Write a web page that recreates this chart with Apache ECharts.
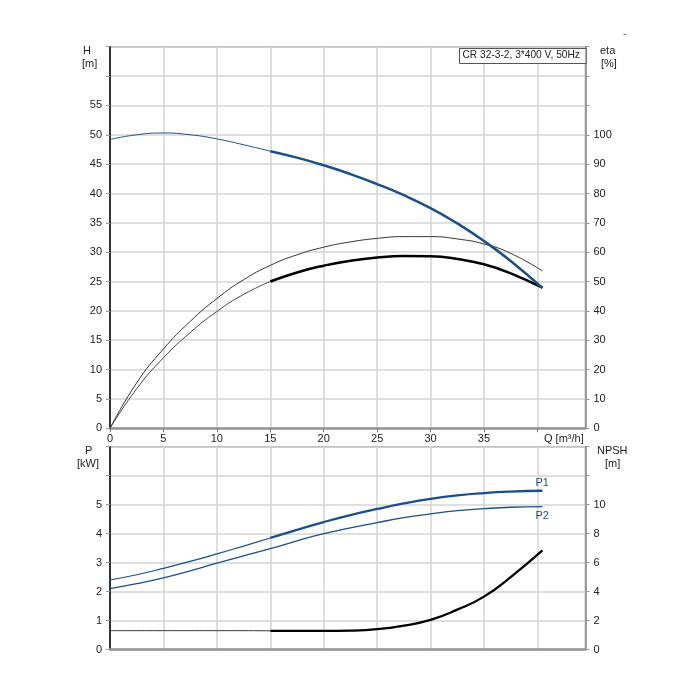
<!DOCTYPE html>
<html>
<head>
<meta charset="utf-8">
<script src="https://cdn.jsdelivr.net/npm/echarts@6/dist/echarts.min.js"></script>
<style>html,body{margin:0;padding:0;background:#fff;}#c{width:700px;height:700px;}</style>
</head>
<body>
<div id="c"></div>
<script>
// Flow Q [m³/h]
var qValues = [0, 2.5, 5, 7.5, 10, 12.5, 15, 17.5, 20, 22.5, 25, 27.5, 30, 32.5, 35, 37.5, 40.47];
// Head H [m]
var headH = [49.2, 50.0, 50.3, 50.0, 49.3, 48.3, 47.2, 46.1, 44.8, 43.3, 41.6, 39.7, 37.5, 34.9, 31.9, 28.5, 23.9];
// Efficiencies [%]
var etaUpper = [0, 15.5, 27.0, 36.4, 44.2, 50.6, 55.5, 59.1, 61.7, 63.5, 64.7, 65.3, 65.3, 64.5, 62.8, 59.6, 53.6];
var etaLower = [0, 13.5, 24.0, 32.6, 39.8, 45.6, 50.0, 53.1, 55.4, 57.1, 58.2, 58.7, 58.6, 57.7, 55.9, 52.8, 47.9];
// Power [kW]
var powerP1 = [2.40, 2.58, 2.80, 3.04, 3.30, 3.57, 3.85, 4.13, 4.40, 4.64, 4.85, 5.04, 5.20, 5.32, 5.40, 5.45, 5.48];
var powerP2 = [2.10, 2.27, 2.47, 2.71, 2.98, 3.23, 3.48, 3.75, 4.00, 4.20, 4.38, 4.55, 4.68, 4.79, 4.86, 4.91, 4.93];
// NPSH [m]
var npsh = [1.30, 1.30, 1.30, 1.30, 1.30, 1.30, 1.29, 1.28, 1.28, 1.30, 1.40, 1.65, 2.04, 2.75, 3.65, 5.0, 6.84];
// Index where the operating range (thick part) begins: Q = 15
var opStart = 6;
var titleText = 'CR 32-3-2, 3*400 V, 50Hz';

function pairs(ys, from, to) {
  var out = [];
  for (var i = from; i <= to; i++) out.push([qValues[i], ys[i]]);
  return out;
}
var last = qValues.length - 1;
var FONT = "'Liberation Sans', Arial, sans-serif";
var BLUE = '#1b4f8a';
var SM = 0.5;
var gridLine = { show: true, lineStyle: { color: '#d5d5d5', width: 1.5 } };
var tickStyle = { show: true, length: 4, lineStyle: { color: '#999', width: 1 } };
var lbl = { color: '#222', fontSize: 11, fontFamily: FONT };

function lim(maxShow) {
  return function (v) { return v > maxShow ? '' : String(v); };
}

var chart = echarts.init(document.getElementById('c'), null, { renderer: 'canvas' });
var option = {
  animation: false,
  backgroundColor: '#fff',
  grid: [
    { left: 110, right: 114.5, top: 46.7, height: 381.6, show: true, borderColor: '#8a8a8a', borderWidth: 1.5, backgroundColor: 'transparent' },
    { left: 110, right: 114.5, top: 446.7, height: 202.8, show: true, borderColor: '#8a8a8a', borderWidth: 1.5, backgroundColor: 'transparent' }
  ],
  xAxis: [
    { gridIndex: 0, type: 'value', min: 0, max: 44.5, interval: 5,
      axisLine: { show: true, onZero: false, lineStyle: { color: '#999', width: 2.5 } },
      axisTick: { show: true, length: 4, lineStyle: { color: '#777' } },
      axisLabel: Object.assign({ margin: 5, formatter: lim(35), showMaxLabel: false }, lbl),
      splitLine: gridLine },
    { gridIndex: 1, type: 'value', min: 0, max: 44.5, interval: 5,
      axisLine: { show: true, onZero: false, lineStyle: { color: '#999', width: 2.5 } },
      axisTick: { show: false },
      axisLabel: { show: false },
      splitLine: gridLine }
  ],
  yAxis: [
    { gridIndex: 0, type: 'value', min: 0, max: 65, interval: 5, position: 'left',
      axisLine: { show: true, onZero: false, lineStyle: { color: '#000', width: 1.5 } },
      axisTick: tickStyle, axisLabel: Object.assign({ margin: 8, formatter: lim(55) }, lbl),
      splitLine: gridLine },
    { gridIndex: 0, type: 'value', min: 0, max: 130, interval: 10, position: 'right',
      axisLine: { show: true, onZero: false, lineStyle: { color: '#8a8a8a', width: 1.5 } },
      axisTick: tickStyle, axisLabel: Object.assign({ margin: 8, formatter: lim(100) }, lbl),
      splitLine: { show: false } },
    { gridIndex: 1, type: 'value', min: 0, max: 7, interval: 1, position: 'left',
      axisLine: { show: true, onZero: false, lineStyle: { color: '#000', width: 1.5 } },
      axisTick: tickStyle, axisLabel: Object.assign({ margin: 8, formatter: lim(5) }, lbl),
      splitLine: gridLine },
    { gridIndex: 1, type: 'value', min: 0, max: 14, interval: 2, position: 'right',
      axisLine: { show: true, onZero: false, lineStyle: { color: '#8a8a8a', width: 1.5 } },
      axisTick: tickStyle, axisLabel: Object.assign({ margin: 8, formatter: lim(10) }, lbl),
      splitLine: { show: false } }
  ],
  series: [
    // efficiency curves
    { name: 'eta upper', type: 'line', xAxisIndex: 0, yAxisIndex: 1, smooth: SM, showSymbol: false,
      data: pairs(etaUpper, 0, last), lineStyle: { color: '#333', width: 1 } },
    { name: 'eta lower thin', type: 'line', xAxisIndex: 0, yAxisIndex: 1, smooth: SM, showSymbol: false,
      data: pairs(etaLower, 0, opStart), lineStyle: { color: '#444', width: 1 } },
    { name: 'eta lower', type: 'line', xAxisIndex: 0, yAxisIndex: 1, smooth: SM, showSymbol: false,
      data: pairs(etaLower, opStart, last), lineStyle: { color: '#000', width: 2.5 } },
    // head curve
    { name: 'H thin', type: 'line', xAxisIndex: 0, yAxisIndex: 0, smooth: SM, showSymbol: false,
      data: pairs(headH, 0, opStart), lineStyle: { color: BLUE, width: 1 } },
    { name: 'H', type: 'line', xAxisIndex: 0, yAxisIndex: 0, smooth: SM, showSymbol: false,
      data: pairs(headH, opStart, last), lineStyle: { color: BLUE, width: 2.5 } },
    // power curves
    { name: 'P1 thin', type: 'line', xAxisIndex: 1, yAxisIndex: 2, smooth: SM, showSymbol: false,
      data: pairs(powerP1, 0, opStart), lineStyle: { color: BLUE, width: 1.2 } },
    { name: 'P1', type: 'line', xAxisIndex: 1, yAxisIndex: 2, smooth: SM, showSymbol: false,
      data: pairs(powerP1, opStart, last), lineStyle: { color: BLUE, width: 2.3 },
      endLabel: { show: true, formatter: 'P1', color: BLUE, fontSize: 11, fontFamily: FONT, offset: [-15, -8] } },
    { name: 'P2', type: 'line', xAxisIndex: 1, yAxisIndex: 2, smooth: SM, showSymbol: false,
      data: pairs(powerP2, 0, last), lineStyle: { color: BLUE, width: 1.3 },
      endLabel: { show: true, formatter: 'P2', color: BLUE, fontSize: 11, fontFamily: FONT, offset: [-15, 9] } },
    // NPSH
    { name: 'NPSH thin', type: 'line', xAxisIndex: 1, yAxisIndex: 3, smooth: SM, showSymbol: false,
      data: pairs(npsh, 0, opStart), lineStyle: { color: '#333', width: 1 } },
    { name: 'NPSH', type: 'line', xAxisIndex: 1, yAxisIndex: 3, smooth: SM, showSymbol: false,
      data: pairs(npsh, opStart, last), lineStyle: { color: '#000', width: 2.3 } }
  ],
  graphic: [
    { type: 'text', left: 83, top: 45, style: { text: 'H', fontSize: 11, fontFamily: FONT, fill: '#222' } },
    { type: 'text', left: 82, top: 58, style: { text: '[m]', fontSize: 11, fontFamily: FONT, fill: '#222' } },
    { type: 'text', left: 600, top: 45, style: { text: 'eta', fontSize: 11, fontFamily: FONT, fill: '#222' } },
    { type: 'text', left: 601, top: 58, style: { text: '[%]', fontSize: 11, fontFamily: FONT, fill: '#222' } },
    { type: 'text', left: 85, top: 445, style: { text: 'P', fontSize: 11, fontFamily: FONT, fill: '#222' } },
    { type: 'text', left: 77, top: 458, style: { text: '[kW]', fontSize: 11, fontFamily: FONT, fill: '#222' } },
    { type: 'text', left: 597, top: 445, style: { text: 'NPSH', fontSize: 11, fontFamily: FONT, fill: '#222' } },
    { type: 'text', left: 605, top: 458, style: { text: '[m]', fontSize: 11, fontFamily: FONT, fill: '#222' } },
    { type: 'text', left: 544, top: 433, style: { text: 'Q [m³/h]', fontSize: 11, fontFamily: FONT, fill: '#222' } },
    { type: 'text', left: 623, top: 28, style: { text: '-', fontSize: 11, fontFamily: FONT, fill: '#555' } },
    { type: 'group', left: 459, top: 48, z: 100, children: [
      { type: 'rect', z: 100, shape: { x: 0, y: 0, width: 126.5, height: 15 }, style: { fill: '#fff', stroke: '#555', lineWidth: 1 } },
      { type: 'text', z: 101, left: 3, top: 2, style: { text: titleText, fontSize: 10.2, fontFamily: FONT, fill: '#222' } }
    ] }
  ]
};
chart.setOption(option);
</script>
</body>
</html>
